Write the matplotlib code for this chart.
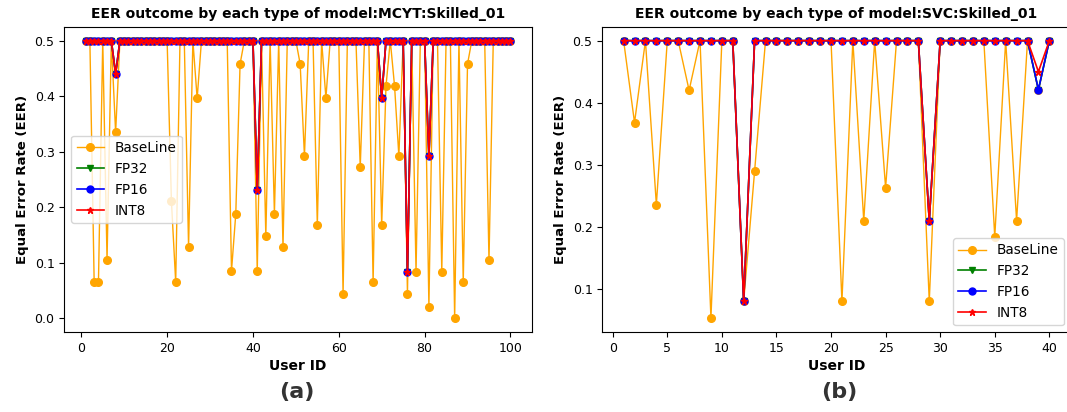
import matplotlib
matplotlib.use("Agg")
import matplotlib.pyplot as plt

# ---------------- data: panel (a) MCYT ----------------
left_users = list(range(1, 101))
left_baseline = [
    0.5, 0.5, 0.065, 0.065, 0.5, 0.105, 0.5, 0.335, 0.5, 0.5,
    0.5, 0.5, 0.5, 0.5, 0.5, 0.5, 0.5, 0.5, 0.5, 0.5,
    0.211, 0.065, 0.5, 0.5, 0.128, 0.5, 0.396, 0.5, 0.5, 0.5,
    0.5, 0.5, 0.5, 0.5, 0.085, 0.188, 0.458, 0.5, 0.5, 0.5,
    0.085, 0.5, 0.148, 0.5, 0.188, 0.5, 0.128, 0.5, 0.5, 0.5,
    0.458, 0.292, 0.5, 0.5, 0.168, 0.5, 0.397, 0.5, 0.5, 0.5,
    0.044, 0.5, 0.5, 0.5, 0.272, 0.5, 0.5, 0.065, 0.5, 0.168,
    0.418, 0.5, 0.418, 0.292, 0.5, 0.044, 0.5, 0.084, 0.5, 0.5,
    0.021, 0.5, 0.5, 0.084, 0.5, 0.5, 0.0, 0.5, 0.065, 0.458,
    0.5, 0.5, 0.5, 0.5, 0.104, 0.5, 0.5, 0.5, 0.5, 0.5,
]
left_fp32 = [
    0.5, 0.5, 0.5, 0.5, 0.5, 0.5, 0.5, 0.44, 0.5, 0.5,
    0.5, 0.5, 0.5, 0.5, 0.5, 0.5, 0.5, 0.5, 0.5, 0.5,
    0.5, 0.5, 0.5, 0.5, 0.5, 0.5, 0.5, 0.5, 0.5, 0.5,
    0.5, 0.5, 0.5, 0.5, 0.5, 0.5, 0.5, 0.5, 0.5, 0.5,
    0.231, 0.5, 0.5, 0.5, 0.5, 0.5, 0.5, 0.5, 0.5, 0.5,
    0.5, 0.5, 0.5, 0.5, 0.5, 0.5, 0.5, 0.5, 0.5, 0.5,
    0.5, 0.5, 0.5, 0.5, 0.5, 0.5, 0.5, 0.5, 0.5, 0.397,
    0.5, 0.5, 0.5, 0.5, 0.5, 0.084, 0.5, 0.5, 0.5, 0.5,
    0.292, 0.5, 0.5, 0.5, 0.5, 0.5, 0.5, 0.5, 0.5, 0.5,
    0.5, 0.5, 0.5, 0.5, 0.5, 0.5, 0.5, 0.5, 0.5, 0.5,
]
left_fp16 = list(left_fp32)
left_int8 = list(left_fp32)

# ---------------- data: panel (b) SVC ----------------
right_users = list(range(1, 41))
right_baseline = [
    0.5, 0.368, 0.5, 0.236, 0.5, 0.5, 0.42, 0.5, 0.053, 0.5,
    0.5, 0.08, 0.29, 0.5, 0.5, 0.5, 0.5, 0.5, 0.5, 0.5,
    0.08, 0.5, 0.21, 0.5, 0.263, 0.5, 0.5, 0.5, 0.08, 0.5,
    0.5, 0.5, 0.5, 0.5, 0.184, 0.5, 0.21, 0.5, 0.42, 0.5,
]
right_fp32 = [
    0.5, 0.5, 0.5, 0.5, 0.5, 0.5, 0.5, 0.5, 0.5, 0.5,
    0.5, 0.08, 0.5, 0.5, 0.5, 0.5, 0.5, 0.5, 0.5, 0.5,
    0.5, 0.5, 0.5, 0.5, 0.5, 0.5, 0.5, 0.5, 0.21, 0.5,
    0.5, 0.5, 0.5, 0.5, 0.5, 0.5, 0.5, 0.5, 0.421, 0.5,
]
right_fp16 = [
    0.5, 0.5, 0.5, 0.5, 0.5, 0.5, 0.5, 0.5, 0.5, 0.5,
    0.5, 0.08, 0.5, 0.5, 0.5, 0.5, 0.5, 0.5, 0.5, 0.5,
    0.5, 0.5, 0.5, 0.5, 0.5, 0.5, 0.5, 0.5, 0.21, 0.5,
    0.5, 0.5, 0.5, 0.5, 0.5, 0.5, 0.5, 0.5, 0.421, 0.5,
]
right_int8 = [
    0.5, 0.5, 0.5, 0.5, 0.5, 0.5, 0.5, 0.5, 0.5, 0.5,
    0.5, 0.08, 0.5, 0.5, 0.5, 0.5, 0.5, 0.5, 0.5, 0.5,
    0.5, 0.5, 0.5, 0.5, 0.5, 0.5, 0.5, 0.5, 0.21, 0.5,
    0.5, 0.5, 0.5, 0.5, 0.5, 0.5, 0.5, 0.5, 0.45, 0.5,
]

series_labels = ["BaseLine", "FP32", "FP16", "INT8"]
titles = ["EER outcome by each type of model:MCYT:Skilled_01",
          "EER outcome by each type of model:SVC:Skilled_01"]
panel_tags = ["(a)", "(b)"]

# ---------------- drawing ----------------
plt.rcParams['font.family'] = ['DejaVu Sans']
fig = plt.figure(figsize=(10.67, 4.12), dpi=100)
ax1 = fig.add_axes([0.0603, 0.194, 0.438, 0.741])
ax2 = fig.add_axes([0.5645, 0.194, 0.4389, 0.741])

styles = [
    dict(color='orange', marker='o', markersize=5.5, linewidth=1.0),
    dict(color='green', marker='v', markersize=5, linewidth=1.2),
    dict(color='blue', marker='o', markersize=5, linewidth=1.2),
    dict(color='red', marker='*', markersize=5, linewidth=1.2),
]

panels = [
    (ax1, left_users, [left_baseline, left_fp32, left_fp16, left_int8], 'center left'),
    (ax2, right_users, [right_baseline, right_fp32, right_fp16, right_int8], 'lower right'),
]

for i, (ax, users, data, loc) in enumerate(panels):
    for vals, lab, st in zip(data, series_labels, styles):
        ax.plot(users, vals, label=lab, **st)
    ax.set_title(titles[i], fontsize=10, fontweight='bold', pad=6)
    ax.set_xlabel("User ID", fontsize=10, fontweight='bold', labelpad=3)
    ax.set_ylabel("Equal Error Rate (EER)", fontsize=9.5, fontweight='bold')
    ax.tick_params(labelsize=9)
    ax.legend(loc=loc, fontsize=9.8)

ax1.set_yticks([0.0, 0.1, 0.2, 0.3, 0.4, 0.5])
ax2.set_yticks([0.1, 0.2, 0.3, 0.4, 0.5])
ax2.set_xticks([0, 5, 10, 15, 20, 25, 30, 35, 40])

fig.text(0.278, 0.048, panel_tags[0], fontsize=16, fontweight='bold',
         color='#333333', ha='center', va='center')
fig.text(0.787, 0.048, panel_tags[1], fontsize=16, fontweight='bold',
         color='#333333', ha='center', va='center')

fig.savefig("out.png", dpi=100)
